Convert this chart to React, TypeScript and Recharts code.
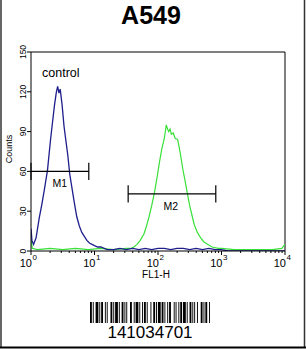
import React from 'react';
import { ComposedChart, Line, XAxis, YAxis, ReferenceLine, ReferenceDot } from 'recharts';

// log10(FL1-H) positions and counts
const controlLog = [0, 0.015, 0.04, 0.08, 0.13, 0.17, 0.21, 0.26, 0.31, 0.37, 0.4, 0.42, 0.44, 0.46, 0.49, 0.52, 0.55, 0.58, 0.61, 0.65, 0.68, 0.72, 0.76, 0.8, 0.84, 0.88, 0.92, 0.96, 1.0, 1.05, 1.1, 1.2, 1.3, 1.4, 1.5, 1.6, 1.7, 1.8, 1.9, 2.0, 2.1, 2.2, 2.3, 2.4, 2.5, 2.6, 2.7, 2.8, 2.9, 3.0, 3.1, 4.0];
const controlCounts = [17, 8, 5, 10, 25, 35, 46, 61, 85, 110, 120, 124, 119, 122, 110, 94, 83, 72, 58, 46, 37, 26, 19, 14, 11, 8, 6, 5, 4, 3, 3, 1, 1, 2, 1, 2, 1, 2, 1, 2, 2, 1, 2, 2, 1, 2, 1, 2, 1, 1, 0, 0];

const sampleLog = [0, 0.02, 0.1, 0.3, 0.5, 0.7, 0.9, 1.1, 1.3, 1.5, 1.58, 1.62, 1.67, 1.72, 1.78, 1.82, 1.86, 1.9, 1.94, 1.98, 2.02, 2.06, 2.1, 2.13, 2.15, 2.17, 2.19, 2.21, 2.24, 2.27, 2.31, 2.35, 2.39, 2.43, 2.46, 2.5, 2.54, 2.57, 2.62, 2.67, 2.72, 2.78, 2.85, 2.95, 3.0, 3.2, 3.5, 3.8, 3.95, 4.0];
const sampleCounts = [9, 2, 1, 2, 1, 2, 1, 2, 1, 2, 2, 3, 5, 8, 13, 19, 26, 34, 43, 54, 66, 77, 85, 95, 92, 90, 92, 88, 89, 85, 84, 74, 62, 52, 44, 34, 26, 20, 14, 10, 7, 5, 3, 2, 2, 1, 1, 1, 2, 5];

const markerNames = ['M1', 'M2'];
const markerStart = [0, 1.53];
const markerEnd = [0.91, 2.91];
const markerLevel = [60, 43];

const yTicks = [0, 30, 60, 90, 120, 150];
const decades = [0, 1, 2, 3, 4];
const minorSteps = [2, 3, 4, 5, 6, 7, 8, 9];

const barcodeWidths = [2, 1, 1, 2, 3, 1, 1, 1, 2, 2, 1, 1, 1, 3, 2, 1, 1, 1, 3, 1, 1, 2, 2, 1, 1, 1, 1, 3, 2, 2, 1, 1, 3, 1, 1, 2, 1, 1, 2, 1, 1, 3, 1, 2, 2, 1, 1, 1, 3, 1, 2, 1, 1, 2, 1, 1, 2, 3, 1, 1, 1, 2, 1, 1, 2, 1, 3, 1, 1, 2, 2, 1, 1, 1, 1, 2, 1, 3, 2, 1, 1, 1, 2, 2, 1];

const FONT = '"Liberation Sans", Arial, sans-serif';

const controlData = controlLog.map((x, i) => ({ x, y: controlCounts[i] }));
const sampleData = sampleLog.map((x, i) => ({ x, y: sampleCounts[i] }));

const xTicks: number[] = [];
decades.forEach((d) => {
  xTicks.push(d);
  if (d < 4) minorSteps.forEach((m) => xTicks.push(d + Math.log10(m)));
});

const XTick = (props: any) => {
  const { x, y, payload } = props;
  const v = payload.value;
  const major = Math.abs(v - Math.round(v)) < 1e-6;
  return (
    <g>
      <line x1={x} x2={x} y1={y} y2={y + (major ? 4 : 2)} stroke="#000" strokeWidth={1} />
      {major && (
        <text x={x + 1} y={y + 16} textAnchor="end" fontSize={11} fontFamily={FONT} fill="#000">10</text>
      )}
      {major && (
        <text x={x + 1.5} y={y + 9} textAnchor="start" fontSize={8} fontFamily={FONT} fill="#000">{Math.round(v)}</text>
      )}
    </g>
  );
};

const YTick = (props: any) => {
  const { x, y, payload } = props;
  const tx = x + 1;
  return (
    <text x={tx} y={y} transform={`rotate(-90 ${tx} ${y})`} textAnchor="middle" fontSize={8.5} fontFamily={FONT} fill="#000">
      {payload.value}
    </text>
  );
};

const Barcode = () => {
  const total = barcodeWidths.reduce((a, b) => a + b, 0);
  const unit = 120 / total;
  let pos = 90;
  const rects: React.ReactNode[] = [];
  barcodeWidths.forEach((w, i) => {
    if (i % 2 === 0) rects.push(<rect key={i} x={pos} y={302} width={w * unit} height={21} fill="#000" />);
    pos += w * unit;
  });
  return <g>{rects}</g>;
};

export default function App() {
  return (
    <div style={{ position: 'absolute', left: 0, top: 0, width: 306, height: 349, background: '#fff' }}>
      <div style={{ position: 'absolute', left: 0, top: 0 }}>
        <ComposedChart width={306} height={349} margin={{ top: 52, right: 21, bottom: 0, left: 0 }}>
          <XAxis
            dataKey="x"
            type="number"
            domain={[0, 4]}
            ticks={xTicks}
            interval={0}
            tick={<XTick />}
            tickLine={false}
            tickSize={0}
            tickMargin={0}
            height={98}
            axisLine={{ stroke: '#000' }}
            allowDataOverflow
          />
          <YAxis
            type="number"
            domain={[0, 150]}
            ticks={yTicks}
            interval={0}
            tick={<YTick />}
            tickSize={4}
            tickMargin={2}
            tickLine={{ stroke: '#000' }}
            width={31}
            axisLine={{ stroke: '#000' }}
            allowDataOverflow
          />
          <ReferenceLine y={150} stroke="#000" />
          <ReferenceLine x={4} stroke="#000" />
          <Line data={sampleData} dataKey="y" type="linear" stroke="#38e038" strokeWidth={1.2} dot={false} isAnimationActive={false} />
          <Line data={controlData} dataKey="y" type="linear" stroke="#1e1e8c" strokeWidth={1.3} dot={false} isAnimationActive={false} />
          {markerNames.map((n, i) => (
            <ReferenceLine key={n + 'h'} segment={[{ x: markerStart[i], y: markerLevel[i] }, { x: markerEnd[i], y: markerLevel[i] }]} stroke="#000" strokeWidth={1.2} />
          ))}
          {markerNames.map((n, i) => (
            <ReferenceLine key={n + 'r'} segment={[{ x: markerEnd[i], y: markerLevel[i] - 6.5 }, { x: markerEnd[i], y: markerLevel[i] + 6.5 }]} stroke="#000" strokeWidth={1.2} />
          ))}
          {markerNames.map((n, i) => (
            <ReferenceLine key={n + 'l'} segment={[{ x: markerStart[i], y: markerLevel[i] - 6.5 }, { x: markerStart[i], y: markerLevel[i] + 6.5 }]} stroke="#000" strokeWidth={1.2} />
          ))}
          {markerNames.map((n, i) => (
            <ReferenceDot
              key={n + 't'}
              x={(markerStart[i] + markerEnd[i]) / 2 + (i === 0 ? 0 : -0.02)}
              y={markerLevel[i]}
              r={1}
              shape={(p: any) => (
                <text x={p.cx} y={p.cy + 16} textAnchor="middle" fontSize={10.5} fontFamily={FONT} fill="#000">{n}</text>
              )}
            />
          ))}
        </ComposedChart>
      </div>
      <svg width={306} height={349} style={{ position: 'absolute', left: 0, top: 0, pointerEvents: 'none' }}>
        <line x1={1} y1={0} x2={1} y2={348} stroke="#333" strokeWidth={1.5} />
        <line x1={304.5} y1={0} x2={304.5} y2={348} stroke="#333" strokeWidth={1.5} />
        <line x1={0} y1={347.5} x2={306} y2={347.5} stroke="#000" strokeWidth={2} />
        <text x={151} y={24} textAnchor="middle" fontSize={25} fontWeight="bold" fontFamily={FONT} fill="#000">A549</text>
        <text x={12} y={149} transform="rotate(-90 12 149)" textAnchor="middle" fontSize={9} fontFamily={FONT} fill="#000">Counts</text>
        <text x={156} y={278} textAnchor="middle" fontSize={10} fontFamily={FONT} fill="#000">FL1-H</text>
        <text x={42} y={77} textAnchor="start" fontSize={12.5} fontFamily={FONT} fill="#000">control</text>
        <Barcode />
        <text x={150} y={338} textAnchor="middle" fontSize={17} fontFamily={FONT} fill="#000">141034701</text>
      </svg>
    </div>
  );
}
